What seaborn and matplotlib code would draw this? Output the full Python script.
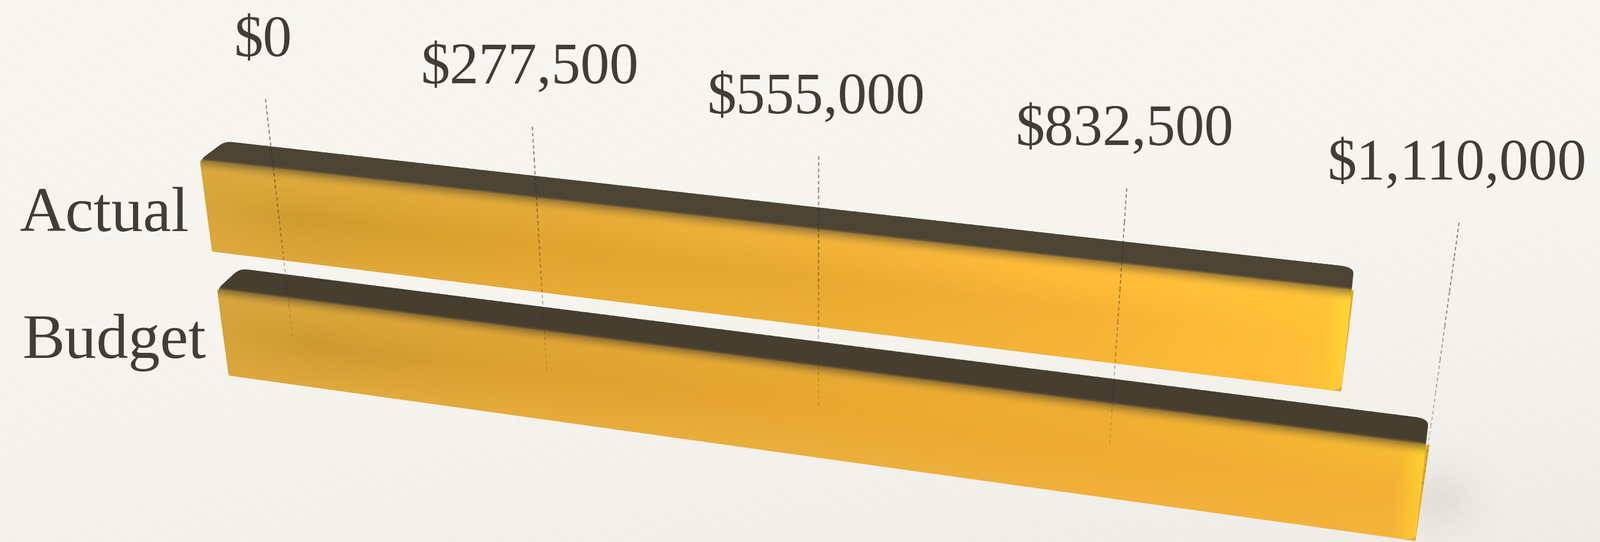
import numpy as np
import matplotlib
matplotlib.use('Agg')
import matplotlib.pyplot as plt
import matplotlib.transforms as mtransforms
from matplotlib.colors import to_rgb
from matplotlib.path import Path
import seaborn as sns

# Chart data
categories = ['Actual', 'Budget']
values = [1035000, 1110000]
tick_values = [0, 277500, 555000, 832500, 1110000]
tick_labels = ['$0', '$277,500', '$555,000', '$832,500', '$1,110,000']

AXIS_MAX = tick_values[-1]
BAR_WIDTH = 0.7
W, H = 2827, 957
TEXT_COLOR = '#423e37'

# shading of the gold faces: rows run down the face, columns along the bar
shade_cols = [0.0, 0.09, 0.3, 0.55, 0.78, 0.98, 1.0]
shade_rows = [0.0, 0.18, 0.5, 1.0]
actual_shades = [
    ['#d8a83f', '#dcaa3c', '#e2aa36', '#efb13a', '#ffbb39', '#ffc338', '#ffd636'],
    ['#d9a73d', '#dca839', '#e3a934', '#f0b138', '#ffbb38', '#ffc437', '#ffd836'],
    ['#d9a63b', '#cf9b2e', '#dfa32e', '#e6a830', '#f5b135', '#ffc036', '#ffd636'],
    ['#dda83e', '#dfa73a', '#e6aa36', '#ecae36', '#f6b438', '#ffbf38', '#ffcb35'],
]
budget_shades = [
    ['#d6a53e', '#d8a53a', '#e0a534', '#e9aa33', '#f0b034', '#f6ba34', '#ffd42f'],
    ['#d6a43c', '#d8a437', '#dfa432', '#e8a931', '#f0ae32', '#f5b934', '#ffd52f'],
    ['#d5a23a', '#cd992f', '#dfa130', '#e9a830', '#efab32', '#f4b135', '#ffcd30'],
    ['#dca73e', '#e0a83d', '#e6ab3b', '#eab03c', '#f0b03a', '#f3b33a', '#ffc934'],
]
top_colors = ['#4c4434', '#463e2f']


def fit_homography(src, dst):
    """Solve the 3x3 projective matrix taking four src points to four dst points."""
    rows, rhs = [], []
    for (x, y), (u, v) in zip(src, dst):
        rows.append([x, y, 1, 0, 0, 0, -u * x, -u * y])
        rows.append([0, 0, 0, x, y, 1, -v * x, -v * y])
        rhs += [u, v]
    return np.append(np.linalg.solve(np.array(rows, float), np.array(rhs, float)), 1).reshape(3, 3)


class Perspective(mtransforms.Transform):
    """Maps (value, category position) to picture pixels."""
    input_dims = 2
    output_dims = 2
    is_separable = False
    has_inverse = False

    def __init__(self, src, dst):
        super().__init__()
        # scale the value so that the matrix stays well conditioned
        self.h = fit_homography([(x / AXIS_MAX, y) for x, y in src], dst)

    def transform_non_affine(self, pts):
        pts = np.asarray(pts, float)
        full = np.column_stack([pts[:, 0] / AXIS_MAX, pts[:, 1], np.ones(len(pts))])
        out = full @ self.h.T
        return out[:, :2] / out[:, 2:3]


top_y = -BAR_WIDTH / 2
low_y = 1 + BAR_WIDTH / 2
front = Perspective([(0, top_y), (0, low_y), (AXIS_MAX, low_y), (AXIS_MAX, top_y)],
                    [(353, 283), (404, 663), (2501, 955), (2563, 532)])
back = Perspective([(0, top_y), (0, 1 + top_y), (AXIS_MAX, 1 + top_y), (AXIS_MAX, top_y)],
                   [(397, 249), (424, 474), (2524, 739), (2558, 490)])
grid = Perspective([(0, -1), (0, 2), (AXIS_MAX, 2), (AXIS_MAX, -1)],
                   [(469, 175), (517, 595), (2513, 863), (2578, 393)])


def interp_table(table, xs, nodes):
    return np.stack([np.interp(xs, nodes, c) for c in np.asarray(table).T], axis=1)


def smoothstep(a, b, x):
    t = np.clip((x - a) / (b - a), 0, 1)
    return t * t * (3 - 2 * t)


def draw_bar_faces(ax, bar, shades, top_color):
    """Paint a bar rectangle as a shaded front face with a dark top face."""
    x0, width = bar.get_x(), bar.get_width()
    y0, y1 = bar.get_y(), bar.get_y() + bar.get_height()
    u = np.linspace(0, 1, 120)
    u = np.unique(np.append(u, np.linspace(0.97, 1, 14)))
    vals = x0 + u * width
    q = np.concatenate([np.linspace(-1, 0, 16)[:-1], np.linspace(0, 1, 40)])

    top_back = back.transform_non_affine(np.column_stack([vals, np.full_like(vals, y0)]))
    top_front = front.transform_non_affine(np.column_stack([vals, np.full_like(vals, y0)]))
    xx = np.zeros((len(q), len(u)))
    yy = np.zeros_like(xx)
    for i, level in enumerate(q):
        if level < 0:
            pts = top_back + (level + 1) * (top_front - top_back)
        else:
            pts = front.transform_non_affine(np.column_stack([vals, np.full_like(vals, y0 + level * (y1 - y0))]))
        xx[i], yy[i] = pts[:, 0], pts[:, 1]

    table = np.array([[to_rgb(c) for c in row] for row in shades])
    along = np.stack([interp_table(table[j], u, shade_cols) for j in range(len(shade_rows))])
    rgb = np.zeros((len(q), len(u), 3))
    for k in range(len(u)):
        rgb[:, k, :] = interp_table(along[:, k, :], np.clip(q, 0, 1), shade_rows)
    mix = smoothstep(-0.12, 0.12, q)[:, None, None]
    rgb = mix * rgb + (1 - mix) * np.array(to_rgb(top_color))

    mesh = ax.pcolormesh(xx, yy, rgb, shading='gouraud', zorder=3)

    # outline with softened corners, used as the clip of the mesh
    a = top_back[0]
    b = top_front[0]
    c = np.array([xx[-1, 0], yy[-1, 0]])
    d = np.array([xx[-1, -1], yy[-1, -1]])
    f = top_back[-1]
    to_end = (d - c) / np.linalg.norm(d - c)
    up_end = (f - d) / np.linalg.norm(f - d)
    back_dir = (a - f) / np.linalg.norm(a - f)
    left_dir = (c - b) / np.linalg.norm(c - b)
    chamfer = (b - a) / np.linalg.norm(b - a)
    verts = [a - back_dir * 14, a, a + chamfer * 14,
             b - chamfer * 12, b, b + left_dir * 12,
             c,
             d - to_end * 26, d, d + up_end * 12,
             f - up_end * 12, f, f + back_dir * 26,
             a - back_dir * 14]
    codes = [Path.MOVETO, Path.CURVE3, Path.CURVE3,
             Path.LINETO, Path.CURVE3, Path.CURVE3,
             Path.LINETO,
             Path.LINETO, Path.CURVE3, Path.CURVE3,
             Path.LINETO, Path.CURVE3, Path.CURVE3,
             Path.LINETO]
    mesh.set_clip_path(Path(verts, codes), ax.transData)


def pixel_axes(fig, zorder):
    new_ax = fig.add_axes([0, 0, 1, 1], zorder=zorder)
    new_ax.set_xlim(0, W)
    new_ax.set_ylim(H, 0)
    new_ax.axis('off')
    return new_ax


def paper_texture():
    """Warm paper tone, a little greyer towards the lower right, with faint mottling."""
    gx, gy = np.meshgrid(np.linspace(0, 1, 707), np.linspace(0, 1, 240))
    base = np.array([248, 246, 240], float)[None, None, :] - 255 * 0.04 * (gy ** 2 * (0.35 + 0.65 * gx))[..., None]
    mottle = (np.sin(gx * 310 + gy * 40) * np.sin(gy * 190 - gx * 55)
              + 0.7 * np.sin(gx * 523 - gy * 130) * np.sin(gy * 367 + gx * 91))
    return np.clip((base + 0.8 * mottle[..., None]) / 255, 0, 1)


def main():
    sns.set_theme(style='white')
    plt.rcParams['font.family'] = ['Liberation Serif', 'DejaVu Serif']

    fig = plt.figure(figsize=(W / 100, H / 100), dpi=100)

    paper_ax = pixel_axes(fig, 0)
    paper_ax.imshow(paper_texture(), extent=(0, W, H, 0), aspect='auto', interpolation='bicubic', zorder=0)

    # soft shadow next to the end of the longest bar
    gx, gy = np.meshgrid(np.linspace(-1, 1, 80), np.linspace(-1, 1, 80))
    shadow = np.zeros((80, 80, 4))
    shadow[..., :3] = to_rgb('#6b675c')
    shadow[..., 3] = 0.1 * np.exp(-(gx ** 2 + gy ** 2) * 4.5)
    paper_ax.imshow(shadow, extent=(2400, 2680, 1000, 760), aspect='auto', interpolation='bilinear', zorder=1)
    paper_ax.set_xlim(0, W)
    paper_ax.set_ylim(H, 0)

    # the bars live on a categorical axes, everything else on a pixel grid above it
    bar_ax = fig.add_axes([0, 0, 1, 1], zorder=1)
    bar_ax.patch.set_visible(False)
    sns.barplot(x=values, y=categories, orient='h', width=BAR_WIDTH, color='#e3a932',
                saturation=1, ax=bar_ax)
    bar_ax.axis('off')

    ax = pixel_axes(fig, 2)
    ax.patch.set_visible(False)

    for bar, shades, top_color in zip(bar_ax.patches, [actual_shades, budget_shades], top_colors):
        bar.set_transform(front + ax.transData)
        bar.set_edgecolor('none')
        draw_bar_faces(ax, bar, shades, top_color)
    ax.set_xlim(0, W)
    ax.set_ylim(H, 0)

    # dashed value lines, fading as they run down through the bars
    fade_steps = np.linspace(-1, 2, 9)
    fade_alpha = [0.55, 0.55, 0.5, 0.42, 0.36, 0.3, 0.24, 0.16]
    for value, label in zip(tick_values, tick_labels):
        for y_a, y_b, alpha in zip(fade_steps[:-1], fade_steps[1:], fade_alpha):
            ax.plot([value, value], [y_a, y_b], transform=grid + ax.transData,
                    color='#2f2b24', alpha=alpha, lw=1.5, ls=(0, (3, 2.2)), zorder=4)
        tx, ty = grid.transform_non_affine(np.array([[value, -1.0]]))[0]
        ax.text(tx - 4, ty - 76, label, ha='center', va='baseline', fontsize=74,
                color=TEXT_COLOR, zorder=5)

    for i, name in enumerate(categories):
        lx, ly = front.transform_non_affine(np.array([[0.0, float(i)]]))[0]
        ax.text(lx - 29, ly + 44, name, ha='right', va='baseline', fontsize=81,
                color=TEXT_COLOR, zorder=5)
    ax.set_xlim(0, W)
    ax.set_ylim(H, 0)

    fig.savefig('out.png', dpi=100)


if __name__ == '__main__':
    main()
